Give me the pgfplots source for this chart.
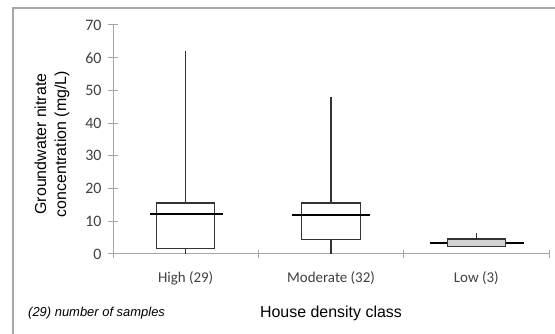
\documentclass[border=0pt]{standalone}
\usepackage{fontspec}
\setmainfont{Liberation Sans}
\newfontfamily\calibri{Carlito}
\usepackage{pgfplots}
\usepgfplotslibrary{statistics}
\pgfplotsset{compat=1.18}
\definecolor{axgray}{HTML}{A6A6A6}
\definecolor{lblgray}{HTML}{404040}
\definecolor{boxline}{HTML}{333333}
\begin{document}
\begin{tikzpicture}
\path[use as bounding box] (0,0) rectangle (555bp,334bp);
\fill[white] (0,0) rectangle (555bp,334bp);
\draw[axgray, line width=1.3bp] (13bp,0) -- (13bp,326bp) -- (555bp,326bp);
\begin{axis}[
  at={(113bp,80bp)}, anchor=south west,
  scale only axis, width=436bp, height=229bp,
  xmin=-0.5, xmax=2.5, ymin=0, ymax=70,
  axis lines=left,
  axis line style={-, axgray, line width=1bp},
  tick align=center,
  xtick={0,1,2},
  xticklabels={High (29), Moderate (32), Low (3)},
  minor xtick={-0.5,0.5,1.5,2.5},
  major x tick style={draw=none},
  minor x tick style={axgray, line width=1bp},
  minor tick length=8bp,
  major tick length=10bp,
  ytick={0,10,...,70},
  y tick style={axgray, line width=1bp},
  /pgf/number format/assume math mode=true,
  tick label style={font=\calibri\fontsize{15}{17}\selectfont, text=lblgray},
  yticklabel style={font=\calibri\fontsize{16}{18}\selectfont, xshift=-3bp},
  xticklabel style={yshift=-9bp},
  ylabel={Groundwater nitrate\\concentration (mg/L)},
  ylabel style={align=center, font=\fontsize{16}{20}\selectfont, at={(axis description cs:-0.14,0.48)}, anchor=center},
  xlabel={House density class},
  xlabel style={font=\fontsize{16}{19}\selectfont, at={(axis description cs:0.5,-0.258)}, anchor=center},
  clip=false,
  boxplot/draw direction=y,
  boxplot/draw/median/.code={},
]
% High
\addplot[boxline, line width=1.1bp, boxplot prepared={draw position=0, median=12.2, upper quartile=15.6, lower quartile=1.8, upper whisker=62.1, lower whisker=0, box extend=0.4, whisker extend=0}] coordinates {};
% Moderate
\addplot[boxline, line width=1.1bp, boxplot prepared={draw position=1, median=11.9, upper quartile=15.6, lower quartile=4.3, upper whisker=48.0, lower whisker=0, box extend=0.4, whisker extend=0}] coordinates {};
% medians
\addplot[black, line width=2.3bp] coordinates {(-0.245,12.2) (0.257,12.2)};
\addplot[black, line width=2.3bp] coordinates {(0.735,11.9) (1.265,11.9)};
\addplot[black, line width=2.3bp] coordinates {(1.68,3.4) (2.33,3.4)};
% Low
\addplot[boxline, line width=1.1bp, fill=gray!35, boxplot prepared={draw position=2, median=3.4, upper quartile=4.6, lower quartile=2.2, upper whisker=6.3, lower whisker=2.2, box extend=0.4, whisker extend=0}] coordinates {};
\end{axis}
\node[anchor=west, font=\itshape\fontsize{13}{15}\selectfont, inner sep=0pt] at (28bp,21bp) {(29) number of samples};
\end{tikzpicture}
\end{document}
